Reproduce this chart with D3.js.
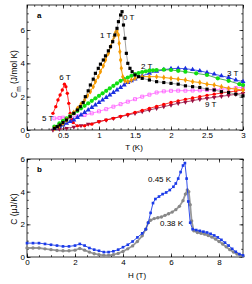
<!DOCTYPE html>
<html lang="en">
<head>
<meta charset="UTF-8">
<title>Specific heat vs T and H</title>
<style>
    body { margin: 0; background: #fff; }
    text { font-family: "Liberation Sans", Arial, sans-serif; }
</style>
</head>
<body>
<svg id="chart" width="252" height="284"></svg>
<script src="https://cdn.jsdelivr.net/npm/d3@7"></script>
<script>
// ---- panel a : Cm vs T at several fields ----
var tB0 = [0.38,0.42,0.46,0.5,0.55,0.6,0.65,0.7,0.74,0.78,0.81,0.85,0.88,0.92,0.95,0.99,1.02,1.06,1.09,1.13,1.16,1.19,1.22,1.25,1.27,1.3,1.32,1.34,1.36,1.38,1.4,1.43,1.46,1.5,1.55,1.6,1.7,1.8,1.9,2.0,2.1,2.2,2.3,2.4,2.5,2.6,2.7,2.8,2.9,3.0]
var cB0 = [0.1,0.2,0.3,0.45,0.6,0.8,1.0,1.2,1.4,1.65,2.0,2.35,2.7,3.05,3.4,3.7,3.95,4.2,4.45,4.75,5.0,5.3,5.7,6.1,6.5,6.9,7.1,6.3,5.5,4.6,4.0,3.7,3.5,3.3,3.2,3.1,3.0,2.9,2.85,2.8,2.75,2.65,2.6,2.55,2.45,2.4,2.3,2.25,2.15,2.05]

var tB1 = [0.38,0.45,0.5,0.55,0.6,0.65,0.7,0.75,0.8,0.84,0.88,0.92,0.95,0.99,1.02,1.06,1.09,1.13,1.16,1.19,1.21,1.23,1.25,1.27,1.28,1.29,1.3,1.31,1.33,1.36,1.4,1.45,1.5,1.6,1.7,1.8,1.9,2.0,2.1,2.2,2.3,2.4,2.5,2.6,2.7,2.8,2.9,3.0]
var cB1 = [0.1,0.25,0.4,0.6,0.8,1.05,1.3,1.55,1.8,2.05,2.3,2.6,2.9,3.2,3.5,3.85,4.2,4.6,5.0,5.35,5.6,5.85,5.95,5.7,5.2,4.7,4.2,3.7,3.2,2.95,2.9,3.0,3.1,3.2,3.2,3.2,3.15,3.1,3.05,3.0,2.9,2.85,2.75,2.7,2.6,2.5,2.45,2.4]

var tB2 = [0.38,0.45,0.5,0.55,0.6,0.65,0.7,0.75,0.8,0.85,0.9,0.95,1.0,1.05,1.1,1.15,1.2,1.25,1.3,1.35,1.4,1.45,1.5,1.55,1.6,1.65,1.7,1.75,1.8,1.9,2.0,2.1,2.2,2.35,2.5,2.65,2.8,2.95,3.0]
var cB2 = [0.2,0.4,0.55,0.7,0.85,1.0,1.15,1.3,1.45,1.6,1.75,1.9,2.05,2.2,2.35,2.5,2.65,2.8,2.95,3.05,3.15,3.25,3.35,3.42,3.48,3.52,3.56,3.58,3.6,3.62,3.6,3.55,3.5,3.4,3.3,3.1,2.95,2.75,2.7]

var tB3 = [0.38,0.45,0.5,0.55,0.6,0.65,0.7,0.75,0.8,0.85,0.9,0.95,1.0,1.05,1.1,1.15,1.2,1.25,1.3,1.35,1.4,1.45,1.5,1.6,1.7,1.8,1.9,2.0,2.1,2.2,2.3,2.4,2.5,2.6,2.7,2.8,2.9,3.0]
var cB3 = [0.1,0.2,0.3,0.4,0.5,0.6,0.75,0.9,1.05,1.2,1.35,1.5,1.65,1.8,1.95,2.1,2.25,2.4,2.55,2.7,2.85,2.95,3.05,3.25,3.4,3.52,3.62,3.68,3.7,3.68,3.62,3.55,3.45,3.35,3.25,3.15,3.0,2.9]

var tB5 = [0.38,0.45,0.5,0.6,0.7,0.8,0.9,1.0,1.1,1.2,1.3,1.4,1.5,1.6,1.7,1.8,1.9,2.0,2.1,2.2,2.3,2.4,2.5,2.6,2.7,2.8,2.9,3.0]
var cB5 = [0.7,0.72,0.74,0.78,0.82,0.9,1.0,1.12,1.25,1.4,1.55,1.7,1.85,2.0,2.12,2.25,2.32,2.35,2.36,2.36,2.37,2.38,2.4,2.42,2.45,2.48,2.52,2.56]

var tB6 = [0.36,0.4,0.43,0.46,0.49,0.52,0.54,0.56,0.58,0.6,0.62,0.64,0.7,0.8,0.9,1.0,1.1,1.2,1.3,1.4,1.5,1.6,1.7,1.8,1.9,2.0,2.1,2.2,2.3,2.4,2.5,2.6,2.7,2.8,2.9,3.0]
var cB6 = [1.0,1.4,1.8,2.1,2.4,2.75,2.6,2.2,1.6,1.0,0.65,0.45,0.25,0.25,0.35,0.5,0.6,0.7,0.82,0.94,1.06,1.18,1.3,1.42,1.54,1.65,1.75,1.84,1.92,2.0,2.08,2.15,2.22,2.28,2.34,2.4]

var tB9 = [0.36,0.45,0.55,0.65,0.75,0.85,1.0,1.1,1.2,1.3,1.4,1.5,1.6,1.7,1.8,1.9,2.0,2.1,2.2,2.3,2.4,2.5,2.6,2.7,2.8,2.9,3.0]
var cB9 = [0.0,0.05,0.1,0.18,0.26,0.36,0.5,0.6,0.7,0.8,0.9,1.0,1.1,1.2,1.3,1.4,1.5,1.6,1.68,1.76,1.84,1.9,1.96,2.02,2.08,2.14,2.2]

// ---- panel b : C vs H at two temperatures ----
var hBlue = [0,0.25,0.5,0.75,1.0,1.25,1.5,1.75,2.0,2.2,2.4,2.6,2.8,3.0,3.2,3.4,3.6,3.8,4.0,4.2,4.4,4.6,4.8,4.95,5.05,5.15,5.25,5.35,5.5,5.65,5.8,5.95,6.1,6.2,6.3,6.4,6.5,6.58,6.65,6.72,6.8,6.9,7.05,7.2,7.35,7.5,7.65,7.8,7.95,8.1,8.25,8.4,8.55,8.7,8.85,9.0]
var cBlue = [0.85,0.85,0.85,0.8,0.75,0.7,0.65,0.65,0.7,0.8,0.7,0.55,0.45,0.38,0.3,0.3,0.35,0.45,0.6,0.75,0.95,1.2,1.45,1.7,2.1,2.7,3.3,3.55,3.7,3.85,3.95,4.1,4.3,4.5,4.8,5.2,5.6,5.75,4.8,3.4,2.1,1.7,1.65,1.6,1.55,1.5,1.42,1.32,1.2,1.05,0.88,0.7,0.5,0.32,0.18,0.1]

var hGray = [0,0.25,0.5,0.75,1.0,1.25,1.5,1.75,2.0,2.2,2.4,2.6,2.8,3.0,3.2,3.4,3.6,3.8,4.0,4.2,4.4,4.6,4.8,4.95,5.05,5.15,5.3,5.45,5.6,5.75,5.9,6.05,6.2,6.35,6.5,6.6,6.68,6.74,6.8,6.86,6.95,7.1,7.25,7.4,7.55,7.7,7.85,8.0,8.15,8.3,8.45,8.6,8.75,8.9,9.0]
var cGray = [0.55,0.55,0.55,0.5,0.45,0.4,0.38,0.38,0.42,0.52,0.42,0.3,0.2,0.14,0.1,0.1,0.14,0.22,0.34,0.5,0.68,0.95,1.3,1.7,2.1,2.25,2.35,2.4,2.45,2.55,2.65,2.75,2.9,3.1,3.45,3.85,4.1,4.0,3.2,2.2,1.6,1.5,1.45,1.4,1.32,1.22,1.1,0.95,0.8,0.62,0.45,0.3,0.18,0.08,0.05]

var svg = d3.select("#chart")

// plot areas
var A = { left: 27, right: 243, top: 5, bottom: 130 }
var B = { left: 27, right: 243, top: 159, bottom: 257 }

var xA = d3.scaleLinear().domain([0, 3]).range([A.left, A.right])
var yA = d3.scaleLinear().domain([0, 7.5]).range([A.bottom, A.top])
var xB = d3.scaleLinear().domain([0, 9]).range([B.left, B.right])
var yB = d3.scaleLinear().domain([0, 6]).range([B.bottom, B.top])

// boxed frame with inward ticks on all four sides
function frame(p, x, y, xMajor, xMinor, yMajor, yMinor, xFmt) {
    var g = svg.append("g")
    function ax(gen, tx, ty, vals, size, fmt) {
        var a = g.append("g")
            .attr("transform", "translate(" + tx + "," + ty + ")")
            .call(gen.tickValues(vals).tickSizeInner(size).tickSizeOuter(0).tickPadding(2).tickFormat(fmt))
        a.select(".domain").remove()
        a.selectAll("line").attr("stroke", "#000").attr("stroke-width", 0.7)
        a.selectAll("text").style("font-size", "8px").attr("fill", "#000")
        return a
    }
    ax(d3.axisBottom(x), 0, p.bottom, xMinor, -1.8, "")
    ax(d3.axisTop(x), 0, p.top, xMinor, -1.8, "")
    ax(d3.axisLeft(y), p.left, 0, yMinor, -1.8, "")
    ax(d3.axisRight(y), p.right, 0, yMinor, -1.8, "")
    ax(d3.axisBottom(x), 0, p.bottom, xMajor, -3.5, xFmt)
    ax(d3.axisTop(x), 0, p.top, xMajor, -3.5, "")
    ax(d3.axisLeft(y), p.left, 0, yMajor, -3.5, d3.format("d"))
    ax(d3.axisRight(y), p.right, 0, yMajor, -3.5, "")
    g.append("rect")
        .attr("x", p.left).attr("y", p.top)
        .attr("width", p.right - p.left).attr("height", p.bottom - p.top)
        .attr("fill", "none").attr("stroke", "#000").attr("stroke-width", 0.8)
}

frame(A, xA, yA, [0, 0.5, 1, 1.5, 2, 2.5, 3], d3.range(0, 3.001, 0.1), [0, 2, 4, 6], d3.range(0, 7.5, 0.5),
    function (d) { return d3.format("")(d) })
frame(B, xB, yB, [0, 2, 4, 6, 8], d3.range(0, 9.001, 0.5), [0, 2, 4, 6], d3.range(0, 6.001, 0.5), d3.format("d"))

// draw one series: line + markers
function series(x, y, xs, ys, o) {
    var pts = xs.map(function (v, i) { return [x(v), y(ys[i])] })
    svg.append("path")
        .datum(pts)
        .attr("d", d3.line())
        .attr("fill", "none")
        .attr("stroke", o.line)
        .attr("stroke-width", o.lw)
    svg.append("g").selectAll("path")
        .data(pts)
        .enter()
        .append("path")
        .attr("transform", function (d) { return "translate(" + d[0] + "," + d[1] + ")" + (o.rot ? " rotate(" + o.rot + ")" : "") })
        .attr("d", d3.symbol().type(o.sym).size(o.size))
        .attr("fill", o.open ? "none" : o.col)
        .attr("stroke", o.col)
        .attr("stroke-width", o.open ? 0.8 : 0)
}

series(xA, yA, tB9, cB9, { line: "#9a1040", lw: 0.8, col: "#9a1040", sym: d3.symbolTriangle, size: 9, rot: 180 })
series(xA, yA, tB6, cB6, { line: "#ff0000", lw: 0.8, col: "#ff0000", sym: d3.symbolCircle, size: 9 })
series(xA, yA, tB5, cB5, { line: "#ff66ff", lw: 0.8, col: "#ff55ff", sym: d3.symbolSquare, size: 9, open: true })
series(xA, yA, tB3, cB3, { line: "#1a2ee0", lw: 0.8, col: "#1a2ee0", sym: d3.symbolTriangle, size: 11 })
series(xA, yA, tB2, cB2, { line: "#20a020", lw: 0.8, col: "#11e011", sym: d3.symbolCircle, size: 14 })
series(xA, yA, tB1, cB1, { line: "#f59a00", lw: 1, col: "#f59a00", sym: d3.symbolDiamond, size: 10 })
series(xA, yA, tB0, cB0, { line: "#777", lw: 0.7, col: "#000", sym: d3.symbolSquare, size: 10 })

series(xB, yB, hGray, cGray, { line: "#999", lw: 1.8, col: "#888", sym: d3.symbolCircle, size: 9 })
series(xB, yB, hBlue, cBlue, { line: "#1a3ae8", lw: 0.9, col: "#1a3ae8", sym: d3.symbolSquare, size: 7 })

// labels
function label(x, y, s, o) {
    o = o || {}
    return svg.append("text")
        .attr("x", x).attr("y", y)
        .attr("text-anchor", o.anchor || "start")
        .style("font-size", (o.size || 8) + "px")
        .style("font-weight", o.bold ? "bold" : "normal")
        .text(s)
}

label(37, 18, "a", { bold: true })
label(37, 172, "b", { bold: true })

label(123, 20, "0 T")
label(100, 38, "1 T")
label(141, 69, "2 T")
label(227, 76, "3 T")
label(205, 107, "9 T")
label(65, 80, "6 T", { anchor: "middle" })
label(42, 121, "5 T")

label(148, 182, "0.45 K")
label(160, 226, "0.38 K")

label(134, 150, "T (K)", { anchor: "middle" })
label(137, 278, "H (T)", { anchor: "middle" })

var ya = svg.append("text")
    .attr("transform", "translate(17,74) rotate(-90)")
    .attr("text-anchor", "middle")
    .style("font-size", "8.5px")
ya.append("tspan").text("C")
ya.append("tspan").attr("baseline-shift", "sub").style("font-size", "6.5px").text("m")
ya.append("tspan").text(" (J/mol K)")

svg.append("text")
    .attr("transform", "translate(17,209) rotate(-90)")
    .attr("text-anchor", "middle")
    .style("font-size", "8.5px")
    .text("C (\u03bcJ/K)")
</script>
</body>
</html>
